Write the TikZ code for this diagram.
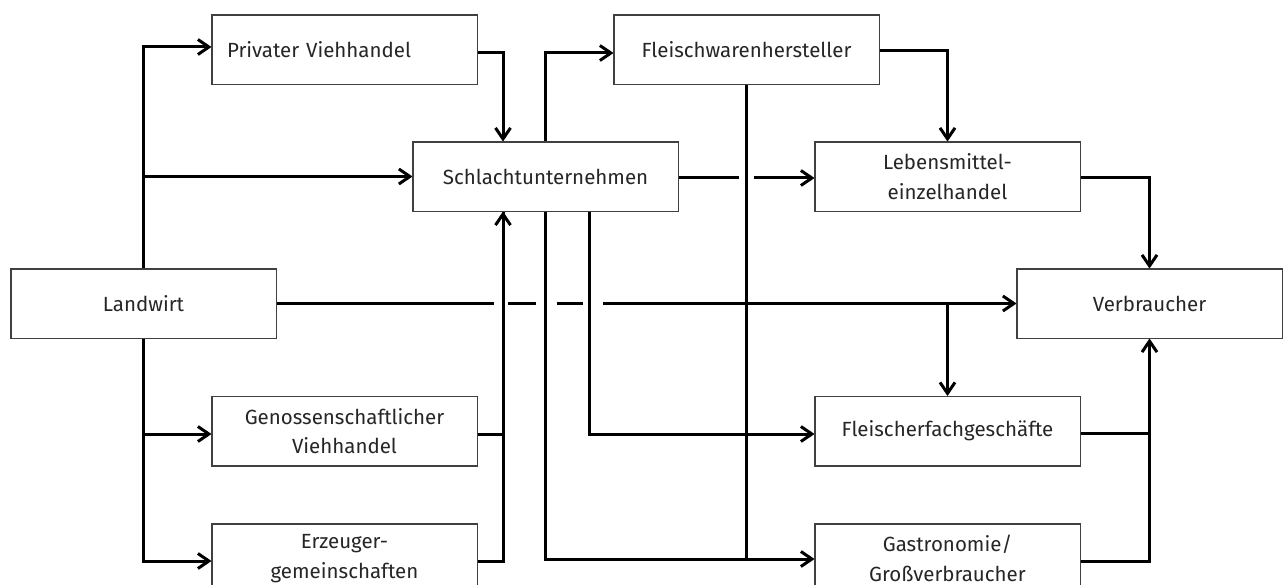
\documentclass[tikz,border=0pt]{standalone}
\usepackage{fontspec}
\setmainfont{Fira Sans}
\usetikzlibrary{arrows.meta,calc}

\tikzset{
  stage/.style={draw=black!75, line width=0.9pt, fill=white,
    minimum width=265pt, minimum height=69pt, inner sep=0pt,
    align=center, text=black!85,
    font=\fontsize{20.5}{29.5}\selectfont},
  flow/.style={line width=3pt},
  tip/.style={flow, -{Straight Barb[length=11pt,width=15pt,line width=3pt]}},
}

\begin{document}
\begin{tikzpicture}[x=1pt,y=-1pt]
\useasboundingbox (0,0) rectangle (1284,585);

% stages of the supply chain
\node[stage, text width=235pt, align=left] (pvh) at (344.5,49.5) {Privater Viehhandel};
\node[stage] (su)  at (545.5,176.5) {Schlachtunternehmen};
\node[stage] (fw)  at (746.5,49.5)  {Fleischwarenhersteller};
\node[stage] (leh) at (947.5,176.5) {Lebensmittel-\\einzelhandel};
\node[stage] (vb)  at (1149.5,303.5){Verbraucher};
\node[stage] (lw)  at (143.5,303.5) {Landwirt};
\node[stage] (gv)  at (344.5,431)   {Genossenschaftlicher\\Viehhandel};
\node[stage] (ez)  at (344.5,558.5) {Erzeuger-\\gemeinschaften};
\node[stage] (ff)  at (947.5,431)   {Fleischerfachgeschäfte};
\node[stage] (gs)  at (947.5,558.5) {Gastronomie/\\Großverbraucher};

% collecting points on the Schlachtunternehmen side
\coordinate (inN) at ([xshift=-42.5pt]su.north);
\coordinate (inS) at ([xshift=-42.5pt]su.south);
\coordinate (outS) at ([xshift=43.5pt]su.south);

% Landwirt upwards
\draw[tip] (lw.north) |- ([yshift=2.5pt]pvh.west);
\draw[tip] (lw.north |- su.west) -- (su.west);
% Landwirt downwards
\draw[tip] (lw.south) |- ([yshift=-2.5pt]ez.west);
\draw[tip] (lw.south |- gv.west) ++(0,3) -- ([yshift=-3pt]gv.west);

% dealers to Schlachtunternehmen
\draw[tip] ([yshift=-3.5pt]pvh.east) -| (inN);
\draw[flow] ([yshift=-3pt]gv.east) -| (inS);
\draw[tip] ([yshift=-2.5pt]ez.east) -| (inS);

% Schlachtunternehmen outputs
\draw[tip] (su.north) |- ([yshift=-3.5pt]fw.west);
\draw[tip] (su.south) |- ([yshift=-0.5pt]gs.west);
\draw[tip] (outS) |- ([yshift=-3pt]ff.west);
\draw[flow] (su.east) ++(0,1.5) -- ($(su.east -| fw.south)+(-8,1.5)$);
\draw[tip] ($(su.east -| fw.south)+(7,1.5)$) -- ([yshift=-1.5pt]leh.west);

% Fleischwarenhersteller outputs
\draw[flow] (fw.south) -- ($(fw.south |- gs.west)+(0,0.5)$);
\draw[tip] ([yshift=-1.5pt]fw.east) -| (leh.north);

% direct line Landwirt to Verbraucher, interrupted at the crossings
\draw[flow] (lw.east) -- ($(lw.east -| inS)+(-9,0)$);
\draw[flow] ($(lw.east -| inS)+(5,0)$) -- ($(lw.east -| su.south)+(-10,0)$);
\draw[flow] ($(lw.east -| su.south)+(11,0)$) -- ($(lw.east -| outS)+(-6,0)$);
\draw[tip] ($(lw.east -| outS)+(14,0)$) -- (vb.west);
\draw[tip] (lw.east -| ff.north) -- (ff.north);

% retail to Verbraucher
\draw[tip] ([yshift=-1.5pt]leh.east) -| (vb.north);
\draw[flow] ([yshift=-2.5pt]ff.east) -- ($(ff.east -| vb.south)+(0,2.5)$);
\draw[tip] ([yshift=-2.5pt]gs.east) -| (vb.south);

% redraw the stage frames above the connector ends
\foreach \n in {pvh,su,fw,leh,vb,lw,gv,ez,ff,gs}{
  \draw[draw=black!75, line width=0.9pt] (\n.north west) rectangle (\n.south east);
}
\end{tikzpicture}
\end{document}
